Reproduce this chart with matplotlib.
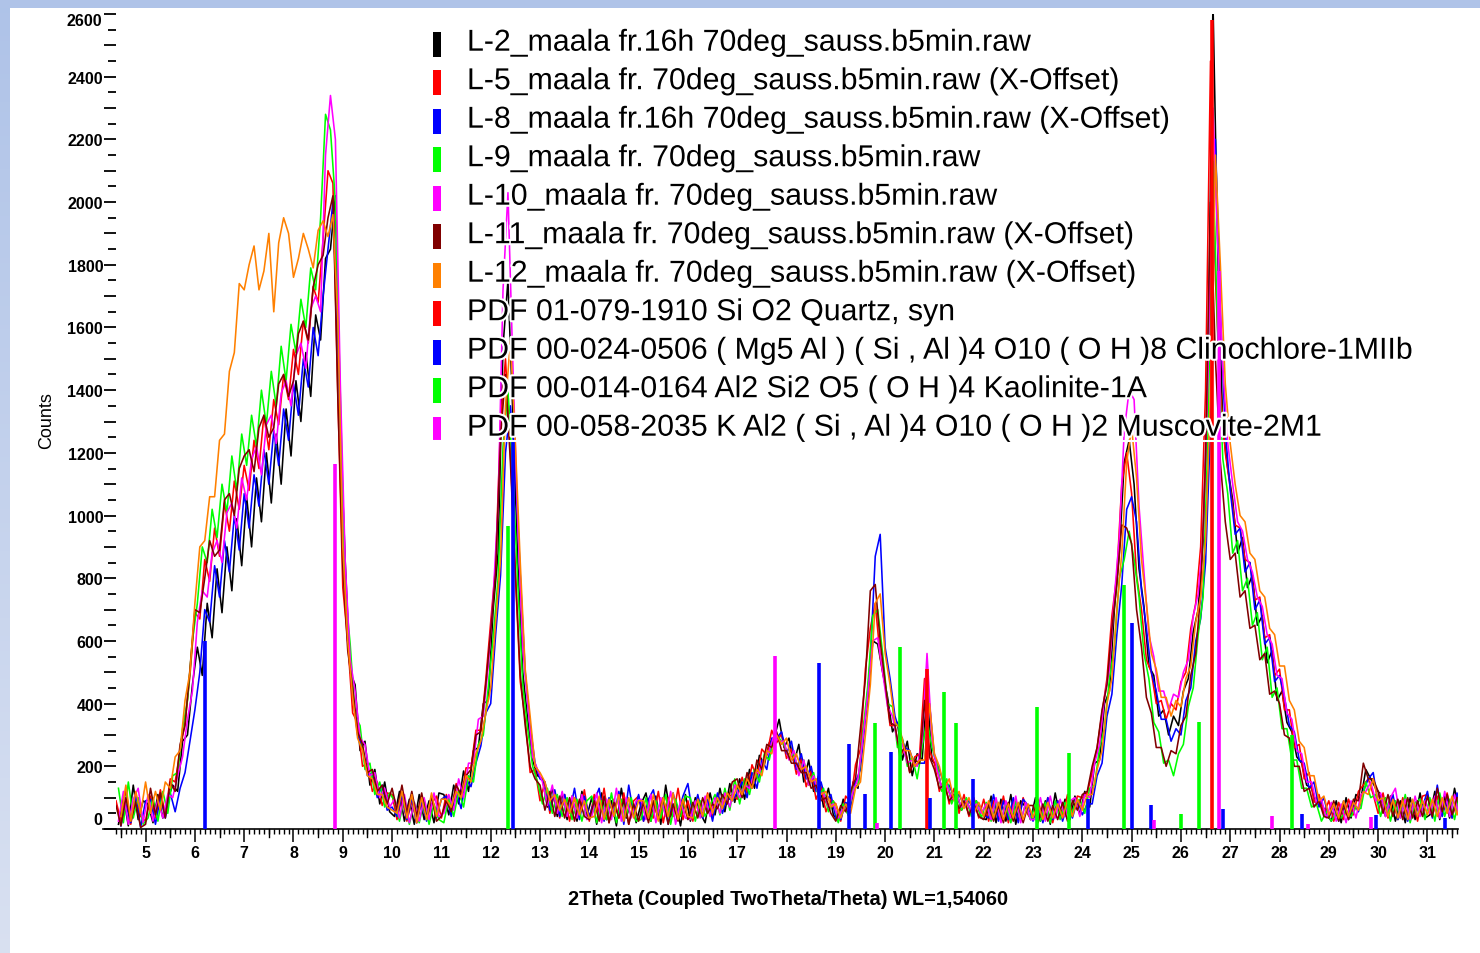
import numpy as np
import matplotlib
matplotlib.use("Agg")
import matplotlib.pyplot as plt
from matplotlib.ticker import MultipleLocator, FixedLocator, FuncFormatter
import matplotlib.patheffects as pe
from matplotlib.patches import Rectangle
from matplotlib.lines import Line2D

plt.rcParams['font.family'] = ['Liberation Sans', 'DejaVu Sans']

# ---------------- data ----------------
two_theta = np.round(np.arange(4.45, 31.66, 0.1), 2)  # sampling grid 4.45 ... 31.65

L2 = [15,105,10,140,30,90,
80,20,110,35,95,140,120,280,300,460,
580,490,720,610,830,690,900,760,990,840,
1060,900,1120,980,1200,1040,1260,1100,1340,1190,
1430,1300,1520,1380,1640,1560,1820,1850,2020,1280,
850,500,460,250,280,140,190,80,150,55,
40,120,25,95,15,110,30,90,20,115,
110,45,140,80,185,120,250,260,400,410,
700,880,1540,1750,1320,850,500,350,220,170,
160,70,130,40,115,30,105,25,120,40,
100,15,115,30,90,10,130,35,95,20,
80,115,25,105,15,140,40,90,10,110,
25,100,50,20,115,45,130,55,145,85,
160,95,190,130,235,205,275,290,350,260,
290,210,270,150,220,120,170,70,130,45,
25,95,45,150,130,310,410,600,590,500,
420,310,340,220,280,170,240,220,440,220,
200,125,150,90,115,60,95,45,90,35,
30,105,20,95,25,110,15,90,70,30,
100,25,90,15,115,35,95,30,105,45,
120,70,210,220,400,440,700,880,1170,1240,
1100,830,710,520,490,360,380,300,360,330,
440,480,630,700,920,1480,2640,1820,1280,1150,
1050,880,930,770,810,650,680,530,570,410,
440,340,310,230,210,140,130,80,80,50,
25,90,20,100,35,110,95,190,160,130,
110,40,105,25,90,20,100,30,115,35,
45,120,30,105,35,130,55]

L5 = [90,25,125,15,110,40,
25,105,35,125,45,160,150,250,340,490,
690,670,860,790,960,870,1040,950,1110,1020,
1160,1080,1240,1150,1320,1210,1370,1290,1450,1370,
1530,1450,1620,1550,1730,1680,1880,2100,2060,1380,
770,600,370,340,200,210,120,150,75,115,
110,30,100,25,90,20,95,30,80,105,
35,110,55,145,95,195,195,315,315,475,
660,840,1300,1500,1200,810,470,350,180,190,
90,150,50,120,35,110,25,100,45,125,
25,110,40,130,20,95,35,115,15,90,
105,25,90,35,120,20,100,40,130,30,
90,25,105,40,115,35,110,80,100,110,
95,165,115,205,165,255,235,315,275,305,
225,255,175,225,135,185,95,135,55,95,
80,25,105,85,205,255,510,640,720,550,
460,330,330,230,260,180,230,240,480,250,
210,120,160,80,130,50,110,40,100,35,
95,25,90,30,105,20,85,25,100,45,
30,95,25,100,20,90,40,110,45,105,
100,115,180,260,370,480,680,810,1100,1200,
1070,810,700,540,500,400,410,350,400,380,
470,500,640,720,900,1400,2450,1750,1400,1200,
1090,970,960,860,850,730,740,610,620,490,
510,380,380,260,270,160,180,85,110,50,
90,25,85,30,95,45,120,140,160,110,
50,115,35,95,30,100,40,90,25,105,
110,40,105,45,115,35,95]

L8 = [10,80,20,110,5,90,
95,15,100,35,115,55,130,180,280,380,
500,700,660,840,740,920,820,1000,890,1070,
960,1130,1030,1210,1100,1270,1160,1340,1240,1420,
1320,1500,1410,1600,1510,1700,1850,2000,1550,880,
600,430,300,260,170,180,100,140,60,70,
40,110,30,100,20,90,25,105,35,95,
105,40,120,65,160,135,210,265,370,400,
620,810,1200,1350,1160,810,500,330,210,160,
150,60,125,40,110,50,130,30,105,40,
90,130,25,100,40,120,15,140,45,110,
25,95,125,35,100,15,115,45,105,145,
40,110,35,95,25,115,50,100,90,115,
150,100,180,130,220,190,290,290,310,240,
280,190,240,160,200,120,150,90,110,35,
30,85,70,150,190,350,540,870,940,580,
480,360,310,260,250,200,210,210,400,230,
190,140,140,100,110,75,90,60,80,45,
35,110,25,90,30,100,20,95,75,25,
85,20,100,30,90,25,80,35,95,45,
80,80,170,210,360,430,620,780,1020,1060,
980,760,640,500,440,350,350,280,320,300,
410,450,600,670,850,1280,2200,1650,1270,1080,
940,960,820,850,700,730,590,610,470,490,
420,330,310,220,210,130,150,70,100,35,
80,25,90,30,85,55,120,160,180,80,
100,45,110,30,80,25,90,40,70,120,
35,140,40,100,35,115,45]

L9 = [130,20,150,35,100,15,
35,100,25,120,50,170,180,320,410,600,
720,900,850,1020,930,1100,1010,1190,1080,1260,
1160,1320,1220,1400,1290,1460,1350,1540,1430,1610,
1520,1690,1600,1790,1720,1950,2280,2230,2000,1380,
760,590,360,330,190,210,110,150,70,115,
90,25,100,15,85,20,90,15,80,30,
20,100,40,120,70,170,150,270,300,450,
610,800,1220,1400,1130,780,460,320,200,150,
80,130,50,110,40,100,30,95,25,90,
105,20,90,30,115,20,95,40,100,25,
30,100,25,90,35,110,15,95,40,105,
100,25,90,40,75,110,45,130,60,160,
80,160,110,190,150,240,220,300,290,270,
230,240,180,220,140,180,100,130,55,90,
20,80,45,130,140,310,460,680,700,560,
400,390,260,290,200,230,160,260,350,260,
210,120,160,80,120,60,100,40,90,35,
85,25,95,30,80,20,90,25,80,30,
80,25,85,20,90,30,85,35,80,95,
50,130,140,260,320,480,580,800,860,950,
860,740,560,480,340,310,210,220,170,240,
270,390,450,620,740,1270,2130,1550,1180,1070,
880,920,760,800,650,690,540,580,420,450,
320,320,220,220,130,130,70,80,25,55,
25,50,35,60,40,70,65,150,100,110,
40,100,25,90,35,110,20,85,95,30,
100,25,115,40,95,30,105]

L10 = [25,120,15,95,130,20,
110,25,95,35,110,100,170,230,350,440,
660,760,740,880,920,850,1010,1040,960,1120,
1050,1180,1220,1130,1290,1320,1230,1390,1430,1350,
1510,1550,1470,1660,1700,1650,2150,2340,2200,1420,
850,540,440,290,270,170,180,100,130,70,
95,35,110,20,85,25,100,30,115,40,
50,110,60,160,100,210,210,350,360,520,
740,1030,1720,2030,1480,970,580,400,230,190,
150,75,140,50,120,40,105,35,110,30,
40,115,20,95,30,130,25,100,35,90,
95,30,110,20,100,40,120,15,90,35,
30,90,35,105,40,100,50,115,70,140,
100,140,130,180,180,230,250,300,280,280,
220,250,170,220,140,170,110,115,70,80,
35,70,60,120,160,290,430,600,610,500,
390,360,280,270,210,220,200,280,560,290,
190,130,140,95,110,70,90,55,80,50,
80,30,100,20,90,35,105,20,85,30,
30,100,25,105,35,95,40,90,100,40,
110,100,210,270,420,510,740,930,1270,1400,
1370,1030,820,620,550,440,440,380,430,420,
500,540,680,750,940,1450,2300,1850,1470,1230,
1100,980,950,860,820,740,710,620,590,490,
480,370,350,250,240,150,150,80,95,35,
85,25,80,20,90,35,110,120,150,90,
115,40,100,130,35,95,30,105,40,90,
50,105,35,120,40,110,30]

L11 = [75,10,100,25,85,5,
15,130,45,115,35,150,120,270,330,510,
700,690,800,920,870,890,1050,1070,1000,1150,
1190,1210,1140,1280,1320,1250,1280,1420,1450,1380,
1430,1580,1620,1560,1730,1800,1830,1950,2020,1370,
840,570,450,310,270,180,190,120,140,80,
130,60,140,50,120,40,115,35,105,25,
40,90,55,140,110,170,190,300,310,460,
630,820,1250,1450,1170,820,490,330,200,160,
140,60,120,40,105,35,100,25,95,40,
30,90,25,105,20,85,35,95,15,80,
25,85,20,90,30,100,15,80,25,95,
30,85,35,100,50,80,65,110,80,150,
160,100,180,130,220,190,270,260,310,250,
250,210,210,180,180,130,140,90,100,50,
25,75,55,120,160,320,480,760,780,600,
470,340,330,240,260,180,220,210,410,230,
190,130,140,90,110,65,90,45,80,40,
30,80,25,75,20,85,25,80,20,75,
75,20,80,25,75,30,85,25,90,60,
110,120,200,260,380,460,640,780,970,960,
910,700,580,420,370,260,260,200,250,240,
330,360,490,560,750,1180,2000,1500,1170,980,
860,880,740,760,640,650,540,560,430,440,
400,300,290,200,200,120,130,70,90,40,
35,90,25,80,30,95,90,210,160,160,
120,50,110,40,95,30,100,35,90,40,
105,40,130,55,110,45,100]

L12 = [40,140,25,120,50,150,
50,120,60,150,130,230,250,410,500,720,
900,920,1060,1060,1240,1260,1460,1520,1740,1720,
1800,1860,1720,1780,1900,1650,1870,1950,1900,1760,
1820,1900,1850,1790,1910,1940,1890,1960,1620,900,
600,420,290,250,170,160,110,110,70,60,
50,120,35,110,20,100,30,115,40,95,
95,70,120,100,170,150,240,280,370,450,
660,860,1350,1560,1230,850,510,360,200,180,
150,90,110,60,95,50,100,45,90,35,
40,105,30,95,40,110,25,100,35,90,
90,35,110,25,100,40,115,30,95,40,
35,95,40,110,50,100,65,115,90,140,
110,160,130,190,170,250,240,300,270,290,
220,240,190,200,150,160,110,120,70,80,
35,80,50,130,150,300,460,720,750,560,
460,340,320,250,250,200,220,220,400,240,
200,130,160,90,120,65,100,50,85,40,
90,35,85,30,80,35,85,30,80,35,
80,30,85,35,80,35,90,40,95,60,
110,110,190,250,400,480,700,880,1170,1280,
1120,860,720,560,510,420,420,360,410,390,
480,520,660,740,920,1400,2150,1800,1420,1230,
1100,1000,980,880,860,760,740,640,620,520,
520,410,380,280,260,170,170,90,105,45,
80,35,90,40,85,60,120,110,160,90,
100,40,95,35,90,30,95,40,90,45,
95,40,100,50,105,45,95]

series_labels = [
    "L-2_maala fr.16h 70deg_sauss.b5min.raw",
    "L-5_maala fr. 70deg_sauss.b5min.raw (X-Offset)",
    "L-8_maala fr.16h 70deg_sauss.b5min.raw (X-Offset)",
    "L-9_maala fr. 70deg_sauss.b5min.raw",
    "L-10_maala fr. 70deg_sauss.b5min.raw",
    "L-11_maala fr. 70deg_sauss.b5min.raw (X-Offset)",
    "L-12_maala fr. 70deg_sauss.b5min.raw (X-Offset)",
]
series_values = [L2, L5, L8, L9, L10, L11, L12]
series_x_offset = [0.0, -0.05, 0.05, 0.0, 0.0, -0.05, 0.05]
series_colors = ["#000000", "#FF0000", "#0000FF", "#00FF00", "#FF00FF", "#800000", "#FF8000"]

# reference patterns (stick positions / intensities)
quartz_pos = [20.85, 26.64]
quartz_int = [510, 2580]
clino_pos = [6.21, 12.45, 18.66, 19.27, 19.59, 20.11, 20.91, 21.78, 24.11, 25.00, 25.39, 26.86, 28.45, 29.95, 31.35]
clino_int = [600, 1240, 530, 270, 112, 245, 99, 160, 96, 657, 75, 65, 48, 45, 35]
kaol_pos = [12.36, 19.80, 20.31, 21.19, 21.44, 23.09, 23.72, 24.85, 26.00, 26.37, 28.25]
kaol_int = [966, 338, 580, 436, 338, 390, 242, 780, 48, 342, 300]
musc_pos = [8.85, 17.76, 19.83, 25.45, 26.77, 27.84, 28.58, 29.85]
musc_int = [1165, 552, 20, 28, 1780, 41, 16, 38]

ref_labels = [
    "PDF 01-079-1910 Si O2 Quartz, syn",
    "PDF 00-024-0506 ( Mg5 Al ) ( Si , Al )4 O10 ( O H )8 Clinochlore-1MIIb",
    "PDF 00-014-0164 Al2 Si2 O5 ( O H )4 Kaolinite-1A",
    "PDF 00-058-2035 K Al2 ( Si , Al )4 O10 ( O H )2 Muscovite-2M1",
]
ref_pos = [quartz_pos, clino_pos, kaol_pos, musc_pos]
ref_int = [quartz_int, clino_int, kaol_int, musc_int]
ref_colors = ["#FF0000", "#0000FF", "#00FF00", "#FF00FF"]

for v in series_values:
    assert len(v) == len(two_theta), (len(v), len(two_theta))

# ---------------- figure ----------------
W, H = 1480, 954
fig = plt.figure(figsize=(W / 100, H / 100), dpi=100)
fig.patch.set_facecolor("white")

# decorative frame
fig.add_artist(Rectangle((0, 1 - 9 / H), 1, 9 / H, transform=fig.transFigure,
                         facecolor="#AFC3E8", edgecolor="none", zorder=0))
grad_ax = fig.add_axes([0, 0, 10 / W, 1 - 9 / H])
c_top = np.array([0.686, 0.765, 0.91])
c_bot = np.array([0.85, 0.88, 0.945])
tvals = np.linspace(0, 1, 200)[:, None, None]
grad_ax.imshow(c_top * (1 - tvals) + c_bot * tvals, aspect="auto")
grad_ax.axis("off")

ax = fig.add_axes([116 / W, 124 / H, (1458 - 116) / W, 815 / H])
ax.set_xlim(4.40, 31.62)
ax.set_ylim(0, 2600)

for vals, dx, col in zip(series_values, series_x_offset, series_colors):
    ax.plot(two_theta + dx, vals, color=col, lw=1.15, zorder=2)

for pos, inten, col in zip(ref_pos, ref_int, ref_colors):
    ax.vlines(pos, 0, inten, colors=col, lw=2.6, zorder=4)

# spines
for s in ["top", "right", "left"]:
    ax.spines[s].set_visible(False)
ax.spines["bottom"].set_linewidth(1.2)
fig.add_artist(Line2D([103 / W, 116 / W], [124 / H, 124 / H], color="black", lw=1.2))

# x ticks
ax.xaxis.set_major_locator(MultipleLocator(1))
ax.xaxis.set_minor_locator(MultipleLocator(0.1))
ax.tick_params(axis="x", which="major", direction="out", length=9.5, width=1.1,
               pad=2, labelsize=11.5)
ax.tick_params(axis="x", which="minor", direction="out", length=3.6, width=1.0)
for xh in np.arange(4.5, 31.6, 1.0):
    ax.plot([xh, xh], [0, -8 / 815], color="black", lw=1.0,
            transform=ax.get_xaxis_transform(), clip_on=False)
for lab in ax.get_xticklabels():
    lab.set_fontweight("bold")

# y ticks
ax.yaxis.set_major_locator(MultipleLocator(100))
ax.yaxis.set_minor_locator(FixedLocator(np.arange(50, 2600, 100)))
ax.yaxis.set_major_formatter(FuncFormatter(
    lambda v, p: f"{int(v)}" if (int(v) % 200 == 0 and 0 < v < 2600) else ""))
ax.tick_params(axis="y", which="major", direction="out", length=8.6, width=1.3,
               pad=0.6, labelsize=11.5)
ax.tick_params(axis="y", which="minor", direction="out", length=5.8, width=1.3)
for lab in ax.get_yticklabels():
    lab.set_fontweight("bold")
# end labels nudged inward as in the original software
ax.text(-14 / 1342, 9 / 815, "0", transform=ax.transAxes, ha="right", va="center",
        fontsize=11.5, fontweight="bold")
ax.text(-14 / 1342, 1 - 6 / 815, "2600", transform=ax.transAxes, ha="right", va="center",
        fontsize=11.5, fontweight="bold")

# axis titles
fig.text(47 / W, 1 - 421 / H, "Counts", rotation=90, ha="center", va="center", fontsize=13)
fig.text(788 / W, 1 - 900 / H, "2Theta (Coupled TwoTheta/Theta) WL=1,54060",
         ha="center", va="center", fontsize=14.4, fontweight="bold")

# legend
all_labels = series_labels + ref_labels
all_colors = series_colors + ref_colors
stroke = [pe.withStroke(linewidth=3, foreground="white")]
for i, (lab, col) in enumerate(zip(all_labels, all_colors)):
    base_px = 51.7 + 38.5 * i
    fig.add_artist(Rectangle((433 / W, 1 - (base_px - 19 + 25) / H), 8 / W, 25 / H,
                             transform=fig.transFigure, facecolor=col, edgecolor="none",
                             zorder=6))
    t = fig.text(467 / W, 1 - base_px / H, lab, ha="left", va="baseline",
                 fontsize=21.8, color="black", zorder=7)
    t.set_path_effects(stroke)
fig.add_artist(Line2D([430 / W, 1415 / W], [1 - 442 / H, 1 - 442 / H], color="white",
                      lw=1.5, zorder=6))

fig.savefig("out.png", dpi=100, facecolor="white")
